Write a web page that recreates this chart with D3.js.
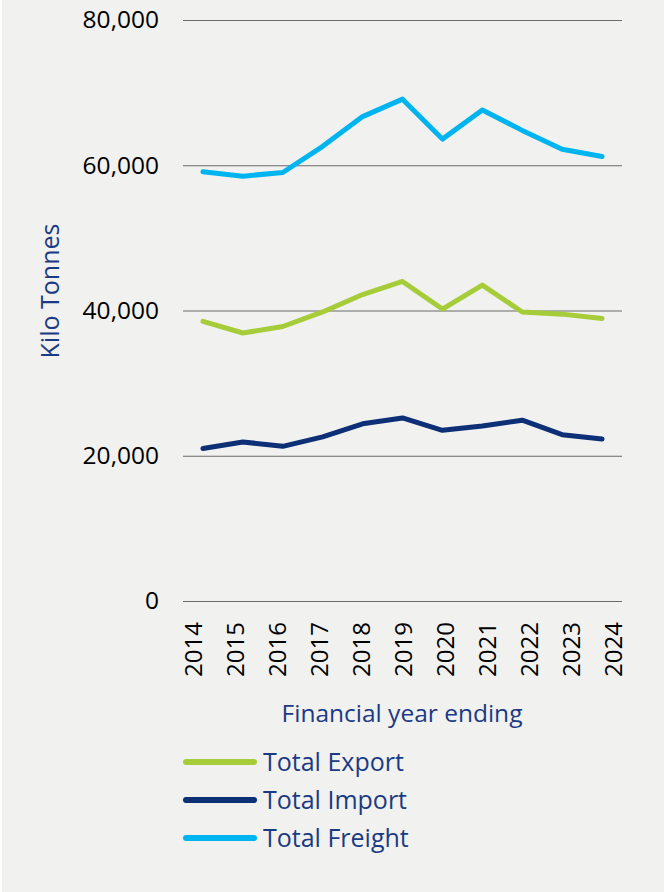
<!DOCTYPE html>
<html>
<head>
<meta charset="utf-8">
<script src="https://cdn.jsdelivr.net/npm/d3@7"></script>
<style>
  html, body { margin: 0; padding: 0; background: #fff; }
  #chart { width: 664px; height: 892px; }
  text { font-family: "Open Sans", sans-serif; }
</style>
</head>
<body>
<div id="chart"></div>
<script>
const years = ["2014", "2015", "2016", "2017", "2018", "2019", "2020", "2021", "2022", "2023", "2024"];
const totalExport = [38500, 36900, 37800, 39800, 42200, 44000, 40200, 43500, 39800, 39500, 38900];
const totalImport = [21000, 21900, 21300, 22600, 24400, 25200, 23500, 24100, 24900, 22900, 22300];
const totalFreight = [59100, 58500, 59000, 62600, 66700, 69100, 63600, 67600, 64800, 62200, 61200];
const yTicks = [0, 20000, 40000, 60000, 80000];

const series = [
  { name: "Total Export", values: totalExport, color: "#a6cd39" },
  { name: "Total Import", values: totalImport, color: "#0c2f75" },
  { name: "Total Freight", values: totalFreight, color: "#00b4ef" }
];

const fullWidth = 664;
const fullHeight = 892;
const margin = { top: 20, right: 42, bottom: 291, left: 183 };
const width = fullWidth - margin.left - margin.right;
const height = fullHeight - margin.top - margin.bottom;

const root = d3
  .select("#chart")
  .append("svg")
  .attr("width", fullWidth)
  .attr("height", fullHeight);

root
  .append("rect")
  .attr("x", 2)
  .attr("width", fullWidth - 2)
  .attr("height", fullHeight)
  .style("fill", "#f1f1ef");

const svg = root
  .append("g")
  .attr("transform", `translate(${margin.left}, ${margin.top})`);

const xScale = d3.scaleBand().domain(years).range([0, width]);
// rotated labels sit slightly wider than the data points
const xLabelScale = d3.scalePoint().domain(years).range([10, 430.5]);

const yScale = d3.scaleLinear().domain([0, 80000]).range([height, 0]);

// gridlines + y labels
const yAxis = d3
  .axisLeft(yScale)
  .tickValues(yTicks)
  .tickSize(-width)
  .tickPadding(24)
  .tickFormat(d3.format(","));

svg
  .append("g")
  .call(yAxis)
  .call(g => g.select(".domain").remove())
  .call(g => g.selectAll(".tick line").attr("stroke", "#6a6a6a").attr("stroke-width", 1))
  .call(g =>
    g
      .selectAll(".tick text")
      .attr("fill", "#000")
      .style("font-size", "24.5px")
      .style("font-family", "'Open Sans', sans-serif")
  );

// x labels
const xAxis = d3.axisBottom(xLabelScale).tickSize(0);
svg
  .append("g")
  .attr("transform", `translate(0, ${height})`)
  .call(xAxis)
  .call(g => g.select(".domain").remove())
  .call(g =>
    g
      .selectAll(".tick text")
      .attr("fill", "#000")
      .style("font-size", "24px")
      .style("font-family", "'Open Sans', sans-serif")
      .attr("transform", "rotate(-90)")
      .attr("text-anchor", "end")
      .attr("x", -21)
      .attr("y", 0)
      .attr("dy", "0.35em")
  );

// lines
const line = d3
  .line()
  .x((d, i) => xScale(years[i]) + xScale.bandwidth() / 2)
  .y(d => yScale(d));

svg
  .selectAll(".series")
  .data(series)
  .enter()
  .append("path")
  .attr("class", "series")
  .attr("d", d => line(d.values))
  .style("fill", "none")
  .style("stroke", d => d.color)
  .style("stroke-width", 5)
  .style("stroke-linejoin", "round")
  .style("stroke-linecap", "round");

// axis titles
root
  .append("text")
  .attr("transform", "translate(59, 291) rotate(-90)")
  .attr("text-anchor", "middle")
  .style("font-size", "25px")
  .style("fill", "#1b3a84")
  .text("Kilo Tonnes");

root
  .append("text")
  .attr("x", 402)
  .attr("y", 722)
  .attr("text-anchor", "middle")
  .style("font-size", "24.5px")
  .style("fill", "#1b3a84")
  .text("Financial year ending");

// legend
const legend = root
  .append("g")
  .selectAll("g")
  .data(series)
  .enter()
  .append("g")
  .attr("transform", (d, i) => `translate(186, ${762 + i * 38})`);

legend
  .append("line")
  .attr("x1", 0)
  .attr("x2", 68)
  .style("stroke", d => d.color)
  .style("stroke-width", 6)
  .style("stroke-linecap", "round");

legend
  .append("text")
  .attr("x", 77)
  .attr("dy", "0.35em")
  .style("font-size", "25px")
  .style("fill", "#1b3a84")
  .text(d => d.name);
</script>
</body>
</html>
